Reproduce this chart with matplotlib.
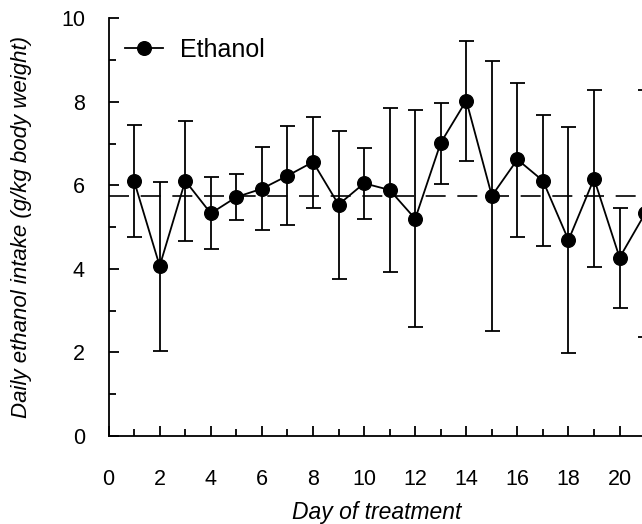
import matplotlib
matplotlib.use("Agg")
import matplotlib.pyplot as plt
from matplotlib.ticker import MultipleLocator

plt.rcParams['font.family'] = ['Liberation Sans', 'DejaVu Sans']

days = [1, 2, 3, 4, 5, 6, 7, 8, 9, 10, 11, 12, 13, 14, 15, 16, 17, 18, 19, 20, 21]
intake = [6.10, 4.07, 6.11, 5.33, 5.72, 5.92, 6.23, 6.56, 5.54, 6.05, 5.89,
          5.20, 7.02, 8.03, 5.75, 6.62, 6.11, 4.69, 6.16, 4.27, 5.33]
upper = [7.44, 6.08, 7.55, 6.20, 6.28, 6.93, 7.41, 7.63, 7.31, 6.90, 7.85,
         7.81, 7.98, 9.46, 8.97, 8.46, 7.68, 7.40, 8.28, 5.47, 8.28]
lower = [4.76, 2.04, 4.68, 4.48, 5.18, 4.93, 5.04, 5.46, 3.77, 5.20, 3.93,
         2.60, 6.04, 6.58, 2.52, 4.76, 4.54, 1.99, 4.04, 3.07, 2.36]
mean_level = 5.75
series_label = "Ethanol"
x_label = "Day of treatment"
y_label = "Daily ethanol intake (g/kg body weight)"

W, H = 642, 524
fig = plt.figure(figsize=(W / 100, H / 100), dpi=100)

x0_px, y0_px = 108.6, 436.0   # axis origin (pixels from top-left)
x_unit, y_unit = 25.55, 41.77
xmax, ymax = 21.6, 10
ax = fig.add_axes([x0_px / W, (H - y0_px) / H,
                   xmax * x_unit / W, ymax * y_unit / H])

err_lo = [m - l for m, l in zip(intake, lower)]
err_hi = [u - m for m, u in zip(intake, upper)]

ax.axhline(mean_level, color='black', lw=1.2, dashes=(12, 7), zorder=1)
ax.errorbar(days, intake, yerr=[err_lo, err_hi], fmt='none', ecolor='black',
            elinewidth=1.3, capsize=5.4, capthick=1.3, zorder=2)
ax.plot(days, intake, color='black', lw=1.3, marker='o', ms=9.8,
        mfc='black', mec='black', zorder=3, label=series_label)

ax.set_xlim(0, xmax)
ax.set_ylim(0, ymax)
for s in ('top', 'right'):
    ax.spines[s].set_visible(False)
for s in ('left', 'bottom'):
    ax.spines[s].set_linewidth(1.3)

ax.xaxis.set_major_locator(MultipleLocator(2))
ax.xaxis.set_minor_locator(MultipleLocator(1))
ax.yaxis.set_major_locator(MultipleLocator(2))
ax.yaxis.set_minor_locator(MultipleLocator(1))
ax.tick_params(axis='both', which='major', direction='in', length=7.2,
               width=1.3, labelsize=15.5)
ax.tick_params(axis='both', which='minor', direction='in', length=5,
               width=1.3)
ax.tick_params(axis='x', which='major', pad=24)
ax.tick_params(axis='y', which='major', pad=17)

ax.set_xlabel(x_label, fontsize=16.5, style='italic')
ax.set_ylabel(y_label, fontsize=16, style='italic')
ax.xaxis.set_label_coords((377 - x0_px) / (xmax * x_unit), -(512 - y0_px) / (ymax * y_unit), transform=ax.transAxes)
ax.xaxis.label.set_va('center')
ax.yaxis.set_label_coords(-(x0_px - 22) / (xmax * x_unit), 0.5, transform=ax.transAxes)
ax.yaxis.label.set_va('center')

leg = ax.legend(loc='center left', frameon=False, fontsize=18,
                handlelength=1.52, handletextpad=0.68, borderpad=0,
                borderaxespad=0,
                bbox_to_anchor=(125 / W, (H - 50) / H),
                bbox_transform=fig.transFigure)

fig.savefig("out.png", dpi=100)
